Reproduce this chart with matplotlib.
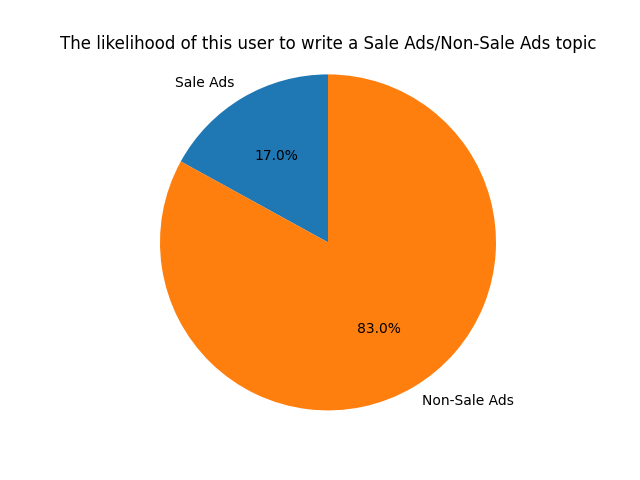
import matplotlib
matplotlib.use('Agg')
import matplotlib.pyplot as plt

labels = ['Sale Ads', 'Non-Sale Ads']
sizes = [17.0, 83.0]

fig = plt.figure(figsize=(6.4, 4.8), dpi=100)
plt.pie(sizes, labels=labels, autopct='%1.1f%%', startangle=90)
plt.axis('equal')
plt.title('The likelihood of this user to write a Sale Ads/Non-Sale Ads topic')
plt.savefig('out.png')
